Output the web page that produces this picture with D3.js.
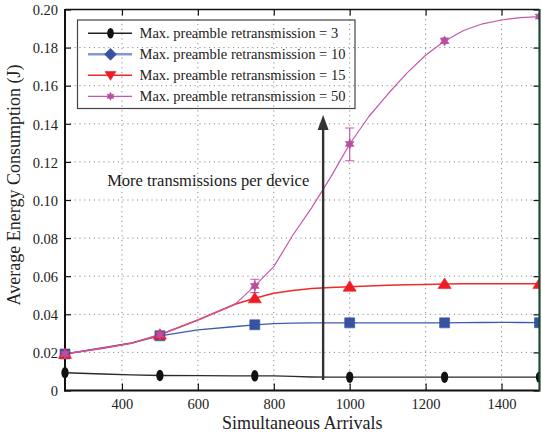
<!DOCTYPE html>
<html>
<head>
<meta charset="utf-8">
<script src="https://cdn.jsdelivr.net/npm/d3@7"></script>
<style>
  html, body { margin: 0; padding: 0; background: #fff; }
  svg { display: block; font-family: "Liberation Serif", "Times New Roman", serif; }
</style>
</head>
<body>
<svg id="chart" width="542" height="436"></svg>
<script>
// Simulation grid (simultaneous arrivals) and average energy per device (J)
const arrivals = [250, 350, 425, 500, 600, 700, 750, 800, 850, 900, 950, 1000,
                  1050, 1100, 1150, 1200, 1250, 1300, 1350, 1400, 1450, 1500];
const markerArrivals = [250, 500, 750, 1000, 1250, 1500];

const energyRetx3  = [0.0093, 0.0087, 0.0082, 0.0079, 0.0078, 0.0077, 0.0077, 0.0077, 0.0074, 0.0071, 0.0070, 0.0070,
                      0.0070, 0.0070, 0.0070, 0.0070, 0.0070, 0.0070, 0.0070, 0.0070, 0.0070, 0.0070];
const energyRetx10 = [0.0192, 0.0225, 0.0250, 0.0287, 0.0318, 0.0336, 0.0345, 0.0351, 0.0354, 0.0355, 0.0355, 0.0355,
                      0.0355, 0.0355, 0.0355, 0.0355, 0.0355, 0.0356, 0.0357, 0.0358, 0.0357, 0.0356];
const energyRetx15 = [0.0192, 0.0222, 0.0248, 0.0293, 0.0370, 0.0454, 0.0484, 0.0510, 0.0525, 0.0535, 0.0541, 0.0545,
                      0.0549, 0.0552, 0.0555, 0.0557, 0.0559, 0.0560, 0.0560, 0.0560, 0.0560, 0.0560];
const energyRetx50 = [0.0192, 0.0222, 0.0248, 0.0293, 0.0370, 0.0456, 0.0549, 0.0650, 0.0815, 0.0960, 0.1120, 0.1294,
                      0.1437, 0.1555, 0.1665, 0.1760, 0.1835, 0.1890, 0.1925, 0.1945, 0.1957, 0.1963];

// Confidence intervals for the 50-retransmission case
const errArrivals = [750, 1000, 1250];
const errLow  = [0.0514, 0.1206, 0.1822];
const errHigh = [0.0584, 0.1378, 0.1850];

const seriesLabels = [
  "Max. preamble retransmission = 3",
  "Max. preamble retransmission = 10",
  "Max. preamble retransmission = 15",
  "Max. preamble retransmission = 50"
];
const xTicks = [400, 600, 800, 1000, 1200, 1400];
const yTicks = [0, 0.02, 0.04, 0.06, 0.08, 0.10, 0.12, 0.14, 0.16, 0.18, 0.20];

// Annotation: arrow and caption
const arrowArrival = 930;
const arrowFrom = 0.0055, arrowTo = 0.1446;
const captionText = "More transmissions per device";
const captionArrival = 361, captionEnergy = 0.1073;

const svg = d3.select("#chart");
const pL = 65, pR = 539.5, pT = 9.5, pB = 390.5;
const x = d3.scaleLinear().domain([250, 1500]).range([pL, pR]);
const y = d3.scaleLinear().domain([0, 0.2]).range([pB, pT]);

const series = [
  { values: energyRetx3,  line: "#2b2b2b", fill: "#111", width: 1.4, legendLine: "#222", legendWidth: 1.4, shape: "oval" },
  { values: energyRetx10, line: "#3d5cab", fill: "#3653a3", width: 1.3, legendLine: "#8597cf", legendWidth: 2.6, shape: "square" },
  { values: energyRetx15, line: "#ee2a2a", fill: "#ee1c25", width: 1.5, legendLine: "#ee2a2a", legendWidth: 1.5, shape: "triUp" },
  { values: energyRetx50, line: "#c558ad", fill: "#b94da0", width: 1.2, legendLine: "#c558ad", legendWidth: 1.2, shape: "star" }
];

// Marker shapes, drawn around the origin
function shapePath(shape, s) {
  const p = d3.path();
  if (shape === "square") {
    p.rect(-s / 2, -s / 2, s, s);
  } else if (shape === "diamond") {
    p.moveTo(0, -s / 2); p.lineTo(s / 2, 0); p.lineTo(0, s / 2); p.lineTo(-s / 2, 0); p.closePath();
  } else if (shape === "triUp") {
    p.moveTo(0, -s * 0.5); p.lineTo(s * 0.55, s * 0.38); p.lineTo(-s * 0.55, s * 0.38); p.closePath();
  } else if (shape === "triDown") {
    p.moveTo(0, s * 0.5); p.lineTo(s * 0.55, -s * 0.38); p.lineTo(-s * 0.55, -s * 0.38); p.closePath();
  } else if (shape === "star") {
    const n = 6, ro = s / 2, ri = s * 0.27;
    for (let i = 0; i < n * 2; i++) {
      const a = Math.PI * i / n - Math.PI / 2;
      const r = i % 2 === 0 ? ro : ri;
      if (i === 0) p.moveTo(r * Math.cos(a), r * Math.sin(a)); else p.lineTo(r * Math.cos(a), r * Math.sin(a));
    }
    p.closePath();
  }
  return p.toString();
}
function drawMarker(g, shape, cx, cy, s, fill) {
  if (shape === "oval") {
    g.append("ellipse").attr("cx", cx).attr("cy", cy).attr("rx", s * 0.33).attr("ry", s * 0.52).attr("fill", fill);
  } else {
    g.append("path").attr("d", shapePath(shape, s)).attr("transform", `translate(${cx},${cy})`)
      .attr("fill", fill).attr("stroke", fill).attr("stroke-width", 0.6);
  }
}

// Dotted grid
const grid = svg.append("g").attr("stroke", "#8a8a8a").attr("stroke-width", 1).attr("stroke-dasharray", "1.2,3.6");
xTicks.forEach(t => grid.append("line").attr("x1", x(t)).attr("x2", x(t)).attr("y1", pT).attr("y2", pB));
yTicks.filter(t => t > 0 && t < 0.2).forEach(t =>
  grid.append("line").attr("x1", pL).attr("x2", pR).attr("y1", y(t)).attr("y2", y(t)));

// Axes with inward ticks on all four sides
const axisColor = "#111";
const bottomAxis = svg.append("g").attr("transform", `translate(0,${pB})`)
  .call(d3.axisBottom(x).tickValues(xTicks).tickSize(-7).tickPadding(8).tickFormat(d3.format("d")));
const topAxis = svg.append("g").attr("transform", `translate(0,${pT})`)
  .call(d3.axisTop(x).tickValues(xTicks).tickSize(-6).tickFormat(""));
const leftAxis = svg.append("g").attr("transform", `translate(${pL},0)`)
  .call(d3.axisLeft(y).tickValues(yTicks).tickSize(-6).tickPadding(7)
    .tickFormat(d => d === 0 ? "0" : d3.format(".2f")(d)));
const rightAxis = svg.append("g").attr("transform", `translate(${pR},0)`)
  .call(d3.axisRight(y).tickValues(yTicks).tickSize(-6).tickFormat(""));
[bottomAxis, topAxis, leftAxis, rightAxis].forEach(a => {
  a.select(".domain").remove();
  a.selectAll(".tick line").attr("stroke", axisColor).attr("stroke-width", 1.2);
  a.selectAll(".tick text").attr("fill", "#222").attr("font-size", "14.5px")
    .attr("font-family", "Liberation Serif, Times New Roman, serif");
});
leftAxis.selectAll(".tick text").attr("dy", "0.36em");

// Frame
svg.append("line").attr("x1", pL).attr("x2", pR).attr("y1", pT).attr("y2", pT)
  .attr("stroke", "#111").attr("stroke-width", 1.3);
svg.append("line").attr("x1", pL).attr("x2", pL).attr("y1", pT - 0.6).attr("y2", pB + 1)
  .attr("stroke", "#111").attr("stroke-width", 2);
svg.append("line").attr("x1", pL - 1).attr("x2", pR).attr("y1", pB).attr("y2", pB)
  .attr("stroke", "#111").attr("stroke-width", 2.2);

// Clip at the right frame edge only, so markers there are cut in half
svg.append("clipPath").attr("id", "plotClip").append("rect")
  .attr("x", pL - 12).attr("y", pT - 6).attr("width", pR - pL + 12).attr("height", pB - pT + 12);
const plot = svg.append("g").attr("clip-path", "url(#plotClip)");

// Series lines
const lineGen = d3.line().x((d, i) => x(arrivals[i])).y(d => y(d));
series.forEach(s => {
  plot.append("path").datum(s.values).attr("d", lineGen)
    .attr("fill", "none").attr("stroke", s.line).attr("stroke-width", s.width).attr("stroke-linejoin", "round");
});

// Error bars (50 retransmissions)
const errG = plot.append("g").attr("stroke", "#c558ad").attr("stroke-width", 1.2);
errArrivals.forEach((a, i) => {
  const cx = x(a), half = i === 2 ? 4 : 4.5;
  errG.append("line").attr("x1", cx).attr("x2", cx).attr("y1", y(errLow[i])).attr("y2", y(errHigh[i]));
  errG.append("line").attr("x1", cx - half).attr("x2", cx + half).attr("y1", y(errLow[i])).attr("y2", y(errLow[i]));
  errG.append("line").attr("x1", cx - half).attr("x2", cx + half).attr("y1", y(errHigh[i])).attr("y2", y(errHigh[i]));
});

// Markers
const markerSizes = { oval: 11, square: 10, triUp: 12, star: 10 };
series.forEach(s => {
  const g = plot.append("g");
  markerArrivals.forEach(a => {
    const i = arrivals.indexOf(a);
    drawMarker(g, s.shape, x(a), y(s.values[i]), markerSizes[s.shape], s.fill);
  });
});

// Right frame edge
svg.append("line").attr("x1", pR).attr("x2", pR).attr("y1", pT - 0.6).attr("y2", pB + 1)
  .attr("stroke", "#1e4a2c").attr("stroke-width", 2.2);

// Arrow annotation
const ax = x(arrowArrival);
svg.append("line").attr("x1", ax).attr("x2", ax).attr("y1", y(arrowFrom)).attr("y2", y(arrowTo) + 12)
  .attr("stroke", "#333").attr("stroke-width", 2.4);
svg.append("path")
  .attr("d", `M${ax},${y(arrowTo)} L${ax + 5.5},${y(arrowTo) + 15} L${ax - 5.5},${y(arrowTo) + 15} Z`)
  .attr("fill", "#333");
svg.append("text").attr("x", x(captionArrival)).attr("y", y(captionEnergy))
  .attr("font-size", "16.5px").attr("fill", "#1a1a1a").text(captionText);

// Legend (transparent box over the grid)
const lg = svg.append("g");
lg.append("rect").attr("x", 77.5).attr("y", 20).attr("width", 277.5).attr("height", 88.5)
  .attr("fill", "none").attr("stroke", "#444").attr("stroke-width", 1.2);
const legendShapes = ["oval", "diamond", "triDown", "star"];
const legendSizes = [10, 12, 10, 8];
series.forEach((s, i) => {
  const cy = 33.3 + i * 21;
  lg.append("line").attr("x1", 88).attr("x2", 132).attr("y1", cy).attr("y2", cy)
    .attr("stroke", s.legendLine).attr("stroke-width", s.legendWidth);
  drawMarker(lg, legendShapes[i], 110.5, cy, legendSizes[i], s.fill);
  lg.append("text").attr("x", 139.5).attr("y", cy + 4.5).attr("font-size", "14.5px")
    .attr("fill", "#222").text(seriesLabels[i]);
});

// Axis titles
svg.append("text").attr("x", (pL + pR) / 2).attr("y", 429).attr("text-anchor", "middle")
  .attr("font-size", "18px").attr("fill", "#222").text("Simultaneous Arrivals");
svg.append("text").attr("transform", `translate(20,${(pT + pB) / 2 - 15}) rotate(-90)`)
  .attr("text-anchor", "middle").attr("font-size", "18px").attr("fill", "#222")
  .text("Average Energy Consumption (J)");
</script>
</body>
</html>
